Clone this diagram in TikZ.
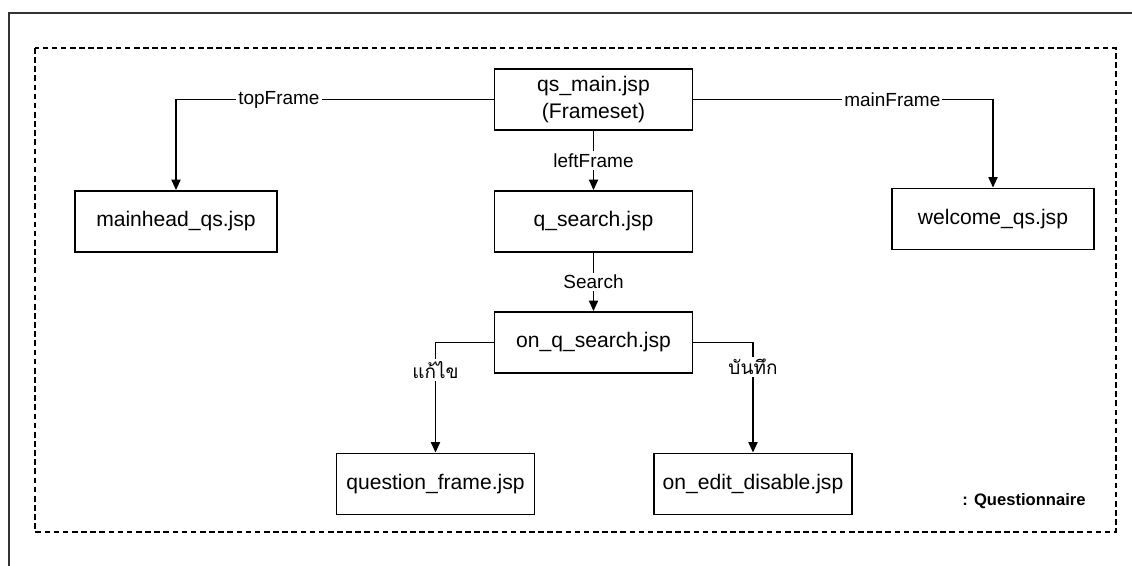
\documentclass[tikz,border=0pt]{standalone}
\usepackage{fontspec}
\setmainfont{Liberation Sans}
\newfontfamily\thaifont[Script=Thai]{Loma}
\usetikzlibrary{arrows.meta}

\begin{document}
\begin{tikzpicture}[x=0.025cm,y=-0.025cm,page/.style={shape=rectangle,draw=black,line width=1.3pt,minimum width=4.95cm,minimum height=1.525cm,inner sep=0pt,align=center,font=\fontsize{15}{19}\selectfont},pageW/.style={page,minimum width=5.05cm},link/.style={line width=1.2pt,-{Triangle[width=6.5pt,length=7.5pt]}},lbl/.style={fill=white,inner sep=1.5pt,font=\fontsize{13.5}{15}\selectfont},lblT/.style={lbl,font=\thaifont\fontsize{13.5}{15}\selectfont}]
\def\xc{593.5};
\def\ya{99.5};
\def\yb{221.5};
\def\yc{342.5};
\def\yd{484};

\useasboundingbox (0,0) rectangle (1132,566);
\draw[line width=1.4pt,black!80] (9,566) -- (9,13) -- (1132,13);
\draw[line width=1.2pt,dash pattern=on 4pt off 2.5pt] (35,48) rectangle (1116,532);

\node[page] (M) at (\xc,\ya) {qs\_main.jsp\\(Frameset)};

\node[pageW] (H) at (176,\yb) {mainhead\_qs.jsp};
\draw[link] (M.west) -| node[lbl,pos=0.338] {topFrame} (H.north);
\node[page] (Q) at (\xc,\yb) {q\_search.jsp};
\draw[link] (M.south) -- node[lbl] {leftFrame} (Q.north);
\node[pageW] (W) at (993,219) {welcome\_qs.jsp};
\draw[link] (M.east) -| node[lbl,pos=0.332] {mainFrame} (W.north);

\node[page] (S) at (\xc,\yc) {on\_q\_search.jsp};
\draw[link] (Q.south) -- node[lbl] {Search} (S.north);

\node[page] (F) at (435.5,\yd) {question\_frame.jsp};
\draw[link] (S.west) -| node[lblT,pos=0.625] {แก้ไข} (F.north);
\node[page] (E) at (753,\yd) {on\_edit\_disable.jsp};
\draw[link] (S.east) -| node[lblT,pos=0.61] {บันทึก} (E.north);

\node[font=\fontsize{11.8}{14}\selectfont\bfseries] (legend) at (1024,501) {: Questionnaire};
\end{tikzpicture}
\end{document}
